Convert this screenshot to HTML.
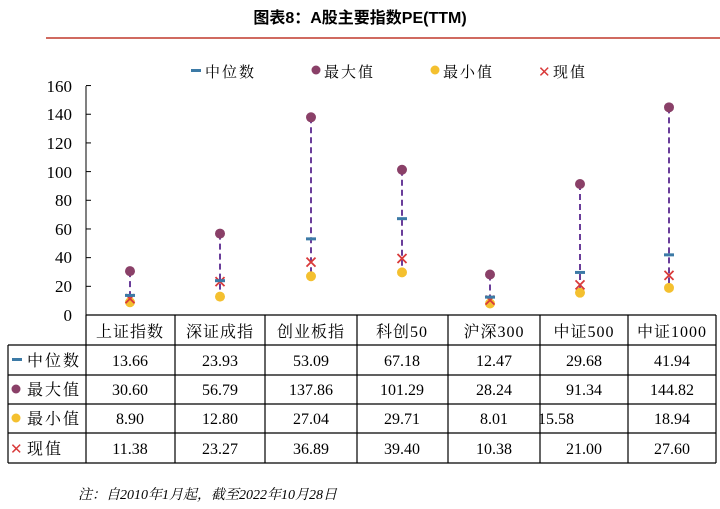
<!DOCTYPE html>
<html><head><meta charset="utf-8"><style>
body{margin:0;background:#fff;}
svg{display:block;font-family:"Liberation Serif","Noto Serif CJK SC",serif;}
</style></head><body>
<svg width="720" height="509" viewBox="0 0 720 509">
<text x="360" y="23" text-anchor="middle" font-family="Liberation Sans,Noto Sans CJK SC,sans-serif" font-weight="bold" font-size="16">图表8：A股主要指数PE(TTM)</text>
<line x1="46" y1="38" x2="720" y2="38" stroke="#c0392b" stroke-width="1.5"/>
<rect x="191" y="69" width="10" height="3" fill="#3c7aa6"/>
<text x="205" y="77" font-size="15" letter-spacing="2">中位数</text>
<circle cx="316" cy="70" r="4.5" fill="#8a4068"/>
<text x="324" y="77" font-size="15" letter-spacing="2">最大值</text>
<circle cx="435" cy="70" r="4.5" fill="#f4c02f"/>
<text x="443" y="77" font-size="15" letter-spacing="2">最小值</text>
<text x="538" y="77" font-size="15" fill="#d93a3a">✕</text>
<text x="553" y="77" font-size="15" letter-spacing="2">现值</text>
<g font-size="17" text-anchor="end">
<text x="72" y="321">0</text><text x="72" y="292">20</text><text x="72" y="263">40</text><text x="72" y="235">60</text><text x="72" y="206">80</text><text x="72" y="178">100</text><text x="72" y="149">120</text><text x="72" y="120">140</text><text x="72" y="92">160</text>
</g>
<line x1="86" y1="86" x2="86" y2="316" stroke="#000" stroke-width="1"/>
<g stroke="#000" id="ticks"></g>
<g id="data"></g>
<g stroke="#000" stroke-width="1.2" fill="none">
<line x1="86" y1="315" x2="716" y2="315"/>
<line x1="8" y1="345" x2="716" y2="345"/>
<line x1="8" y1="375" x2="716" y2="375"/>
<line x1="8" y1="404" x2="716" y2="404"/>
<line x1="8" y1="433" x2="716" y2="433"/>
<line x1="8" y1="463" x2="716" y2="463"/>
<line x1="8" y1="345" x2="8" y2="463"/>
<line x1="86" y1="315" x2="86" y2="463"/>
<line x1="175" y1="315" x2="175" y2="463"/>
<line x1="265" y1="315" x2="265" y2="463"/>
<line x1="357" y1="315" x2="357" y2="463"/>
<line x1="448" y1="315" x2="448" y2="463"/>
<line x1="540" y1="315" x2="540" y2="463"/>
<line x1="628" y1="315" x2="628" y2="463"/>
<line x1="716" y1="315" x2="716" y2="463"/>
</g>
<rect x="12" y="358" width="10" height="3" fill="#3c7aa6"/>
<circle cx="16" cy="389" r="4.5" fill="#8a4068"/>
<circle cx="16" cy="418" r="4.5" fill="#f4c02f"/>
<text x="10" y="454" font-size="15" fill="#d93a3a">✕</text>
<g font-size="16" letter-spacing="2">
<text x="27" y="366">中位数</text><text x="27" y="395">最大值</text><text x="27" y="424">最小值</text><text x="27" y="454">现值</text>
</g>
<g id="tbl" font-size="16" text-anchor="middle"></g>
<text x="78" y="499" font-size="14" font-style="italic">注：自2010年1月起，截至2022年10月28日</text>
</svg>
<script>
var cx=[130,220,311,402,490,580,669],cc=[130,220,311,402,494,584,672];
var names=["上证指数","深证成指","创业板指","科创50","沪深300","中证500","中证1000"];
var med=[13.66,23.93,53.09,67.18,12.47,29.68,41.94],mx=[30.60,56.79,137.86,101.29,28.24,91.34,144.82],mn=[8.90,12.80,27.04,29.71,8.01,15.58,18.94],cur=[11.38,23.27,36.89,39.40,10.38,21.00,27.60];
function Y(v){return 315-v*1.434;}
var s="",t="",k="";
for(var v=20;v<=160;v+=20){k+='<line x1="86" x2="91" y1="'+Y(v)+'" y2="'+Y(v)+'"/>';}
document.getElementById("ticks").innerHTML=k;
for(var i=0;i<7;i++){var x=cx[i];
s+='<line x1="'+x+'" y1="'+Y(mx[i])+'" x2="'+x+'" y2="'+Y(mn[i])+'" stroke="#6a3d9a" stroke-width="2" stroke-dasharray="6,4"/>';
s+='<circle cx="'+x+'" cy="'+Y(mn[i])+'" r="5" fill="#f4c02f"/>';
s+='<circle cx="'+x+'" cy="'+Y(mx[i])+'" r="5" fill="#8a4068"/>';
var yc=Y(cur[i]);s+='<path d="M'+(x-4.5)+' '+(yc-4.5)+'L'+(x+4.5)+' '+(yc+4.5)+'M'+(x+4.5)+' '+(yc-4.5)+'L'+(x-4.5)+' '+(yc+4.5)+'" stroke="#d93a3a" stroke-width="1.8"/>';
s+='<rect x="'+(x-5)+'" y="'+(Y(med[i])-1.5)+'" width="10" height="3" fill="#3c7aa6"/>';
var c=cc[i];
t+='<text x="'+c+'" y="337" letter-spacing="1">'+names[i]+'</text>';
t+='<text x="'+c+'" y="366">'+med[i].toFixed(2)+'</text>';
t+='<text x="'+c+'" y="395">'+mx[i].toFixed(2)+'</text>';
t+='<text x="'+(i==5?c-28:c)+'" y="424">'+mn[i].toFixed(2)+'</text>';
t+='<text x="'+c+'" y="454">'+cur[i].toFixed(2)+'</text>';}
document.getElementById("data").innerHTML=s;document.getElementById("tbl").innerHTML=t;
</script>
</body></html>
